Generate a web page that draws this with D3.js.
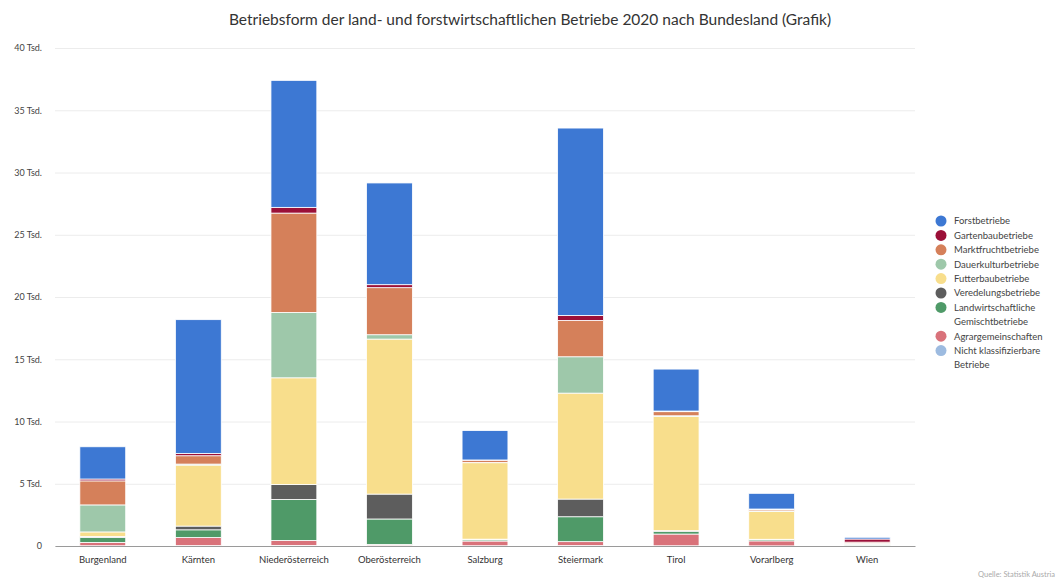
<!DOCTYPE html>
<html>
<head>
<meta charset="utf-8">
<script src="https://cdn.jsdelivr.net/npm/d3@7"></script>
<style>
  body { margin: 0; background: #fff; }
  svg { display: block; font-family: Lato, "Open Sans", sans-serif; }
</style>
</head>
<body>
<svg id="chart" width="1059" height="581"></svg>
<script>
// Bundesländer (x axis)
const categories = ["Burgenland", "Kärnten", "Niederösterreich", "Oberösterreich", "Salzburg", "Steiermark", "Tirol", "Vorarlberg", "Wien"];

// Anzahl Betriebe je Betriebsform
const forstbetriebe         = [2590, 10750, 10200, 8170, 2360, 15050, 3370, 1260, 140];
const gartenbaubetriebe     = [150, 180, 460, 240, 50, 400, 50, 50, 250];
const marktfruchtbetriebe   = [1930, 670, 7980, 3780, 150, 2920, 330, 100, 100];
const dauerkulturbetriebe   = [2170, 80, 5250, 350, 20, 2920, 50, 50, 60];
const futterbaubetriebe     = [360, 4900, 8570, 12450, 6140, 8510, 9180, 2230, 30];
const veredelungsbetriebe   = [80, 300, 1200, 2000, 50, 1420, 50, 30, 10];
const gemischtbetriebe      = [400, 620, 3290, 2040, 100, 2000, 220, 100, 50];
const agrargemeinschaften   = [270, 650, 400, 100, 380, 320, 940, 400, 40];
const nichtKlassifizierbar  = [20, 30, 50, 30, 20, 30, 20, 10, 20];

// y axis ticks
const yTicks = [0, 5000, 10000, 15000, 20000, 25000, 30000, 35000, 40000];

const titleText = "Betriebsform der land- und forstwirtschaftlichen Betriebe 2020 nach Bundesland (Grafik)";
const sourceText = "Quelle: Statistik Austria";

// Series, listed bottom of stack → top of stack
const series = [
  { key: "nicht",  label: ["Nicht klassifizierbare", "Betriebe"], values: nichtKlassifizierbar, color: "#9dbbe0" },
  { key: "agrar",  label: ["Agrargemeinschaften"],                values: agrargemeinschaften,  color: "#d9727a" },
  { key: "landw",  label: ["Landwirtschaftliche", "Gemischtbetriebe"], values: gemischtbetriebe, color: "#4f9a68" },
  { key: "vered",  label: ["Veredelungsbetriebe"],                values: veredelungsbetriebe,  color: "#5d5d5d" },
  { key: "futter", label: ["Futterbaubetriebe"],                  values: futterbaubetriebe,    color: "#f8de8c" },
  { key: "dauer",  label: ["Dauerkulturbetriebe"],                values: dauerkulturbetriebe,  color: "#9ec8aa" },
  { key: "markt",  label: ["Marktfruchtbetriebe"],                values: marktfruchtbetriebe,  color: "#d5805a" },
  { key: "garten", label: ["Gartenbaubetriebe"],                  values: gartenbaubetriebe,    color: "#9b1038" },
  { key: "forst",  label: ["Forstbetriebe"],                      values: forstbetriebe,        color: "#3d78d3" }
];

const rows = categories.map((c, i) => {
  const r = { category: c };
  series.forEach(s => { r[s.key] = s.values[i]; });
  return r;
});

const svg = d3.select("#chart");
const margin = { left: 55, right: 144, top: 48, bottom: 35 };
const W = 1059, H = 581;

const x = d3.scaleBand()
  .domain(categories)
  .range([margin.left, W - margin.right])
  .paddingInner(0.52)
  .paddingOuter(0.26);

const y = d3.scaleLinear()
  .domain([0, 40000])
  .range([H - margin.bottom, margin.top]);

// title
svg.append("text")
  .attr("x", 530).attr("y", 25)
  .attr("text-anchor", "middle")
  .attr("font-size", 15.5)
  .attr("fill", "#333")
  .text(titleText);

// gridlines + y labels
const yAxis = d3.axisLeft(y)
  .tickValues(yTicks)
  .tickSize(-(W - margin.right - margin.left))
  .tickFormat(d => d === 0 ? "0" : (d / 1000) + " Tsd.");

const gy = svg.append("g")
  .attr("transform", `translate(${margin.left},0)`)
  .call(yAxis);
gy.select(".domain").remove();
gy.selectAll(".tick line").attr("stroke", "#ececec").attr("stroke-width", 1);
gy.selectAll(".tick text")
  .attr("x", -13)
  .attr("font-size", 9)
  .attr("font-family", "Lato, sans-serif")
  .attr("fill", "#444");

// stacked bars
const stack = d3.stack().keys(series.map(s => s.key));
const stacked = stack(rows);

svg.append("g")
  .selectAll("g")
  .data(stacked)
  .join("g")
  .attr("fill", (d, i) => series[i].color)
  .selectAll("rect")
  .data(d => d)
  .join("rect")
  .attr("x", d => x(d.data.category))
  .attr("width", x.bandwidth())
  .attr("y", d => y(d[1]))
  .attr("height", d => Math.max(0, y(d[0]) - y(d[1])))
  .attr("stroke", "#fff")
  .attr("stroke-width", 0.8);

// x axis baseline and labels
const xAxis = d3.axisBottom(x).tickSize(0).tickPadding(10);
const gx = svg.append("g")
  .attr("transform", `translate(0,${y(0)})`)
  .call(xAxis);
gx.select(".domain").attr("stroke", "#9a9a9a").attr("stroke-width", 1.2);
gx.selectAll(".tick text")
  .attr("font-size", 9.5)
  .attr("font-family", "Lato, sans-serif")
  .attr("fill", "#333");

// legend (top of stack first)
const legend = svg.append("g").attr("transform", "translate(941,221)");
let line = 0;
const lineH = 14.4;
series.slice().reverse().forEach(s => {
  const g = legend.append("g").attr("transform", `translate(0,${line * lineH})`);
  g.append("circle").attr("r", 5.5).attr("fill", s.color);
  s.label.forEach((t, j) => {
    g.append("text")
      .attr("x", 13)
      .attr("y", j * lineH)
      .attr("dy", "0.35em")
      .attr("font-size", 9.5)
      .attr("fill", "#444")
      .text(t);
  });
  line += s.label.length;
});

// source note
svg.append("text")
  .attr("x", 1055).attr("y", 577)
  .attr("text-anchor", "end")
  .attr("font-size", 7.5)
  .attr("fill", "#aaa")
  .text(sourceText);
</script>
</body>
</html>
